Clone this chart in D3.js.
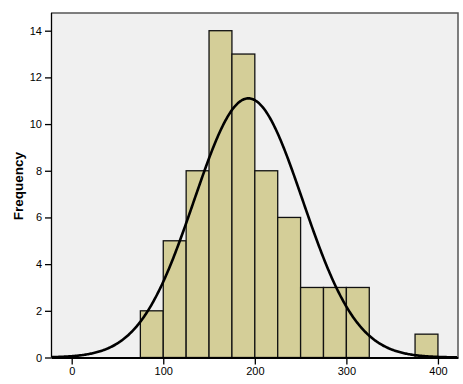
<!DOCTYPE html>
<html><head><meta charset="utf-8">
<script src="https://cdn.jsdelivr.net/npm/d3@7"></script>
<style>body{margin:0;background:#fff}svg{display:block}text{font-family:"Liberation Sans",Arial,sans-serif}</style>
</head><body>
<script>
const binStarts = [75,100,125,150,175,200,225,250,275,300,375];
const counts    = [2,5,8,14,13,8,6,3,3,3,1];
const binWidth = 25;
const xTicks = [0,100,200,300,400];
const yTicks = [0,2,4,6,8,10,12,14];
const curveMean = 193, curveSD = 59.3;
const N = d3.sum(counts);

const W=463,H=384;
const m={l:51,t:13,r:5,b:27};
const svg=d3.select("body").append("svg").attr("width",W).attr("height",H);
const x=d3.scaleLinear().domain([-22.6,421.9]).range([m.l,W-m.r]);
const y=d3.scaleLinear().domain([0,14]).range([357.5,30.7]);
const pw=W-m.r-m.l;
svg.append("rect").attr("x",m.l).attr("y",m.t).attr("width",pw).attr("height",357.5-m.t).attr("fill","#f0f0f0");
svg.append("path").attr("d",`M${m.l},${m.t}H${W-m.r}V357.5`).attr("fill","none").attr("stroke","#555").attr("stroke-width",1.5);

svg.selectAll("rect.bar").data(binStarts).enter().append("rect").attr("class","bar")
 .attr("x",d=>x(d)).attr("width",d=>x(d+binWidth)-x(d))
 .attr("y",(d,i)=>y(counts[i])).attr("height",(d,i)=>y(0)-y(counts[i]))
 .attr("fill","#d4ce98").attr("stroke","#111").attr("stroke-width",1.3);

const pts=d3.range(-22,422,1).map(v=>[v,N*binWidth/(curveSD*Math.sqrt(2*Math.PI))*Math.exp(-0.5*((v-curveMean)/curveSD)**2)]);
svg.append("path").datum(pts).attr("d",d3.line().x(d=>x(d[0])).y(d=>y(d[1]))).attr("fill","none").attr("stroke","#000").attr("stroke-width",2.6);

const ya=svg.append("g").attr("transform",`translate(${m.l},0)`).call(d3.axisLeft(y).tickValues(yTicks).tickSize(6).tickSizeOuter(0).tickPadding(3));
ya.select(".domain").attr("d",`M0.5,${m.t}V357.5`);
const xa=svg.append("g").attr("transform",`translate(0,357.5)`).call(d3.axisBottom(x).tickValues(xTicks).tickSize(7).tickSizeOuter(0).tickPadding(3));
[ya,xa].forEach(g=>{g.selectAll("text").attr("font-size",11).attr("fill","#000").style("font-family","Liberation Sans, Arial, sans-serif");g.selectAll("line,path").attr("stroke","#000").attr("stroke-width",1.3);});
xa.select(".domain").attr("stroke-width",2);
svg.append("text").attr("transform","translate(23,186) rotate(-90)").attr("text-anchor","middle")
 .attr("font-size",13.5).attr("font-weight","bold").text("Frequency");
</script>
</body></html>
